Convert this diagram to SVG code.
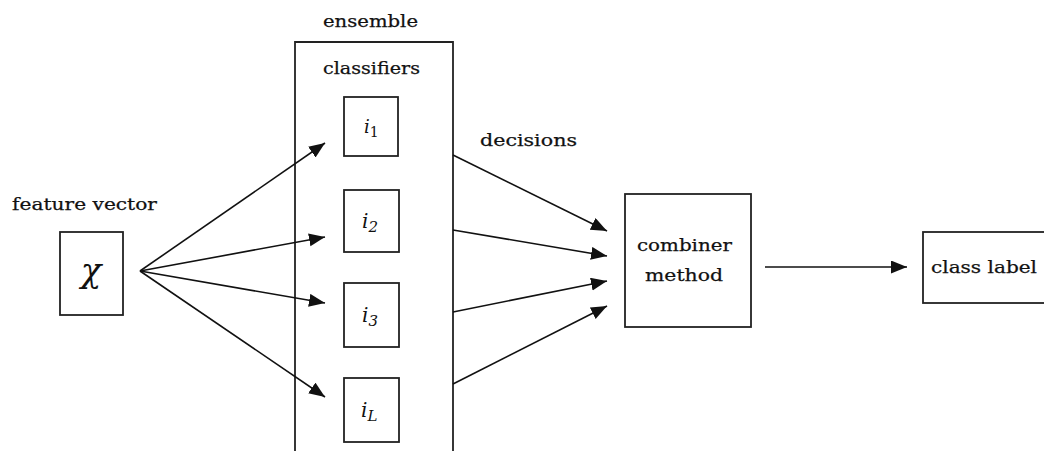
<svg xmlns="http://www.w3.org/2000/svg" width="1044" height="451" viewBox="0 0 1044 451">
<style>
.box{fill:#fff;stroke:#222;stroke-width:1.8}
.ln{fill:none;stroke:#111;stroke-width:1.6}
.t{font-family:"DejaVu Serif","Liberation Serif",serif;font-size:17.5px;fill:#111;stroke:#111;stroke-width:0.25}
.m{font-family:"DejaVu Serif","Liberation Serif",serif;font-style:italic;fill:#111}
</style>
<defs>
<marker id="ah" markerUnits="userSpaceOnUse" markerWidth="18" markerHeight="14" refX="16" refY="6.5" orient="auto">
<path d="M0,0 L16,6.5 L0,13 z" fill="#111"/>
</marker>
</defs>
<rect width="1044" height="451" fill="#fff"/>
<g id="feature">
<text class="t" x="12" y="210" textLength="145" lengthAdjust="spacingAndGlyphs">feature vector</text>
<rect class="box" x="60" y="232" width="63" height="83"/>
<text class="m" x="91" y="282" font-size="34" text-anchor="middle">χ</text>
</g>
<g id="ensemble">
<text class="t" x="323" y="27" textLength="95" lengthAdjust="spacingAndGlyphs">ensemble</text>
<path class="box" d="M295,452 V42 H453 V452"/>
<text class="t" x="323" y="74" textLength="97" lengthAdjust="spacingAndGlyphs">classifiers</text>
</g>
<g id="c1">
<rect class="box" x="344" y="97" width="54" height="59"/>
<text class="m" x="364" y="133" font-size="18">i<tspan font-size="14" font-style="normal" dy="4">1</tspan></text>
</g>
<g id="c2">
<rect class="box" x="344" y="190" width="55" height="62"/>
<text class="m" x="362" y="228" font-size="20">i<tspan font-size="15" dy="4">2</tspan></text>
</g>
<g id="c3">
<rect class="box" x="344" y="283" width="55" height="64"/>
<text class="m" x="362" y="322" font-size="20">i<tspan font-size="15" dy="4">3</tspan></text>
</g>
<g id="cL">
<rect class="box" x="344" y="378" width="55" height="64"/>
<text class="m" x="361" y="417" font-size="20">i<tspan font-size="15" dy="4">L</tspan></text>
</g>
<g id="decisions">
<text class="t" x="480" y="146" textLength="97" lengthAdjust="spacingAndGlyphs">decisions</text>
</g>
<g id="combiner">
<rect class="box" x="625" y="194" width="126" height="133"/>
<text class="t" x="637" y="251" textLength="95" lengthAdjust="spacingAndGlyphs">combiner</text>
<text class="t" x="645" y="281" textLength="78" lengthAdjust="spacingAndGlyphs">method</text>
</g>
<g id="classlabel">
<rect class="box" x="923" y="232" width="130" height="71"/>
<text class="t" x="931" y="273" textLength="106" lengthAdjust="spacingAndGlyphs">class label</text>
</g>
<g id="connectors">
<line class="ln" x1="140" y1="271" x2="325" y2="143" marker-end="url(#ah)"/>
<line class="ln" x1="140" y1="271" x2="325" y2="237" marker-end="url(#ah)"/>
<line class="ln" x1="140" y1="271" x2="325" y2="303" marker-end="url(#ah)"/>
<line class="ln" x1="140" y1="271" x2="325" y2="397" marker-end="url(#ah)"/>
<line class="ln" x1="453" y1="155" x2="607" y2="231" marker-end="url(#ah)"/>
<line class="ln" x1="453" y1="230" x2="607" y2="256" marker-end="url(#ah)"/>
<line class="ln" x1="453" y1="312" x2="607" y2="281" marker-end="url(#ah)"/>
<line class="ln" x1="453" y1="384" x2="607" y2="306" marker-end="url(#ah)"/>
<line class="ln" x1="765" y1="267" x2="907" y2="267" marker-end="url(#ah)"/>
</g>
</svg>
